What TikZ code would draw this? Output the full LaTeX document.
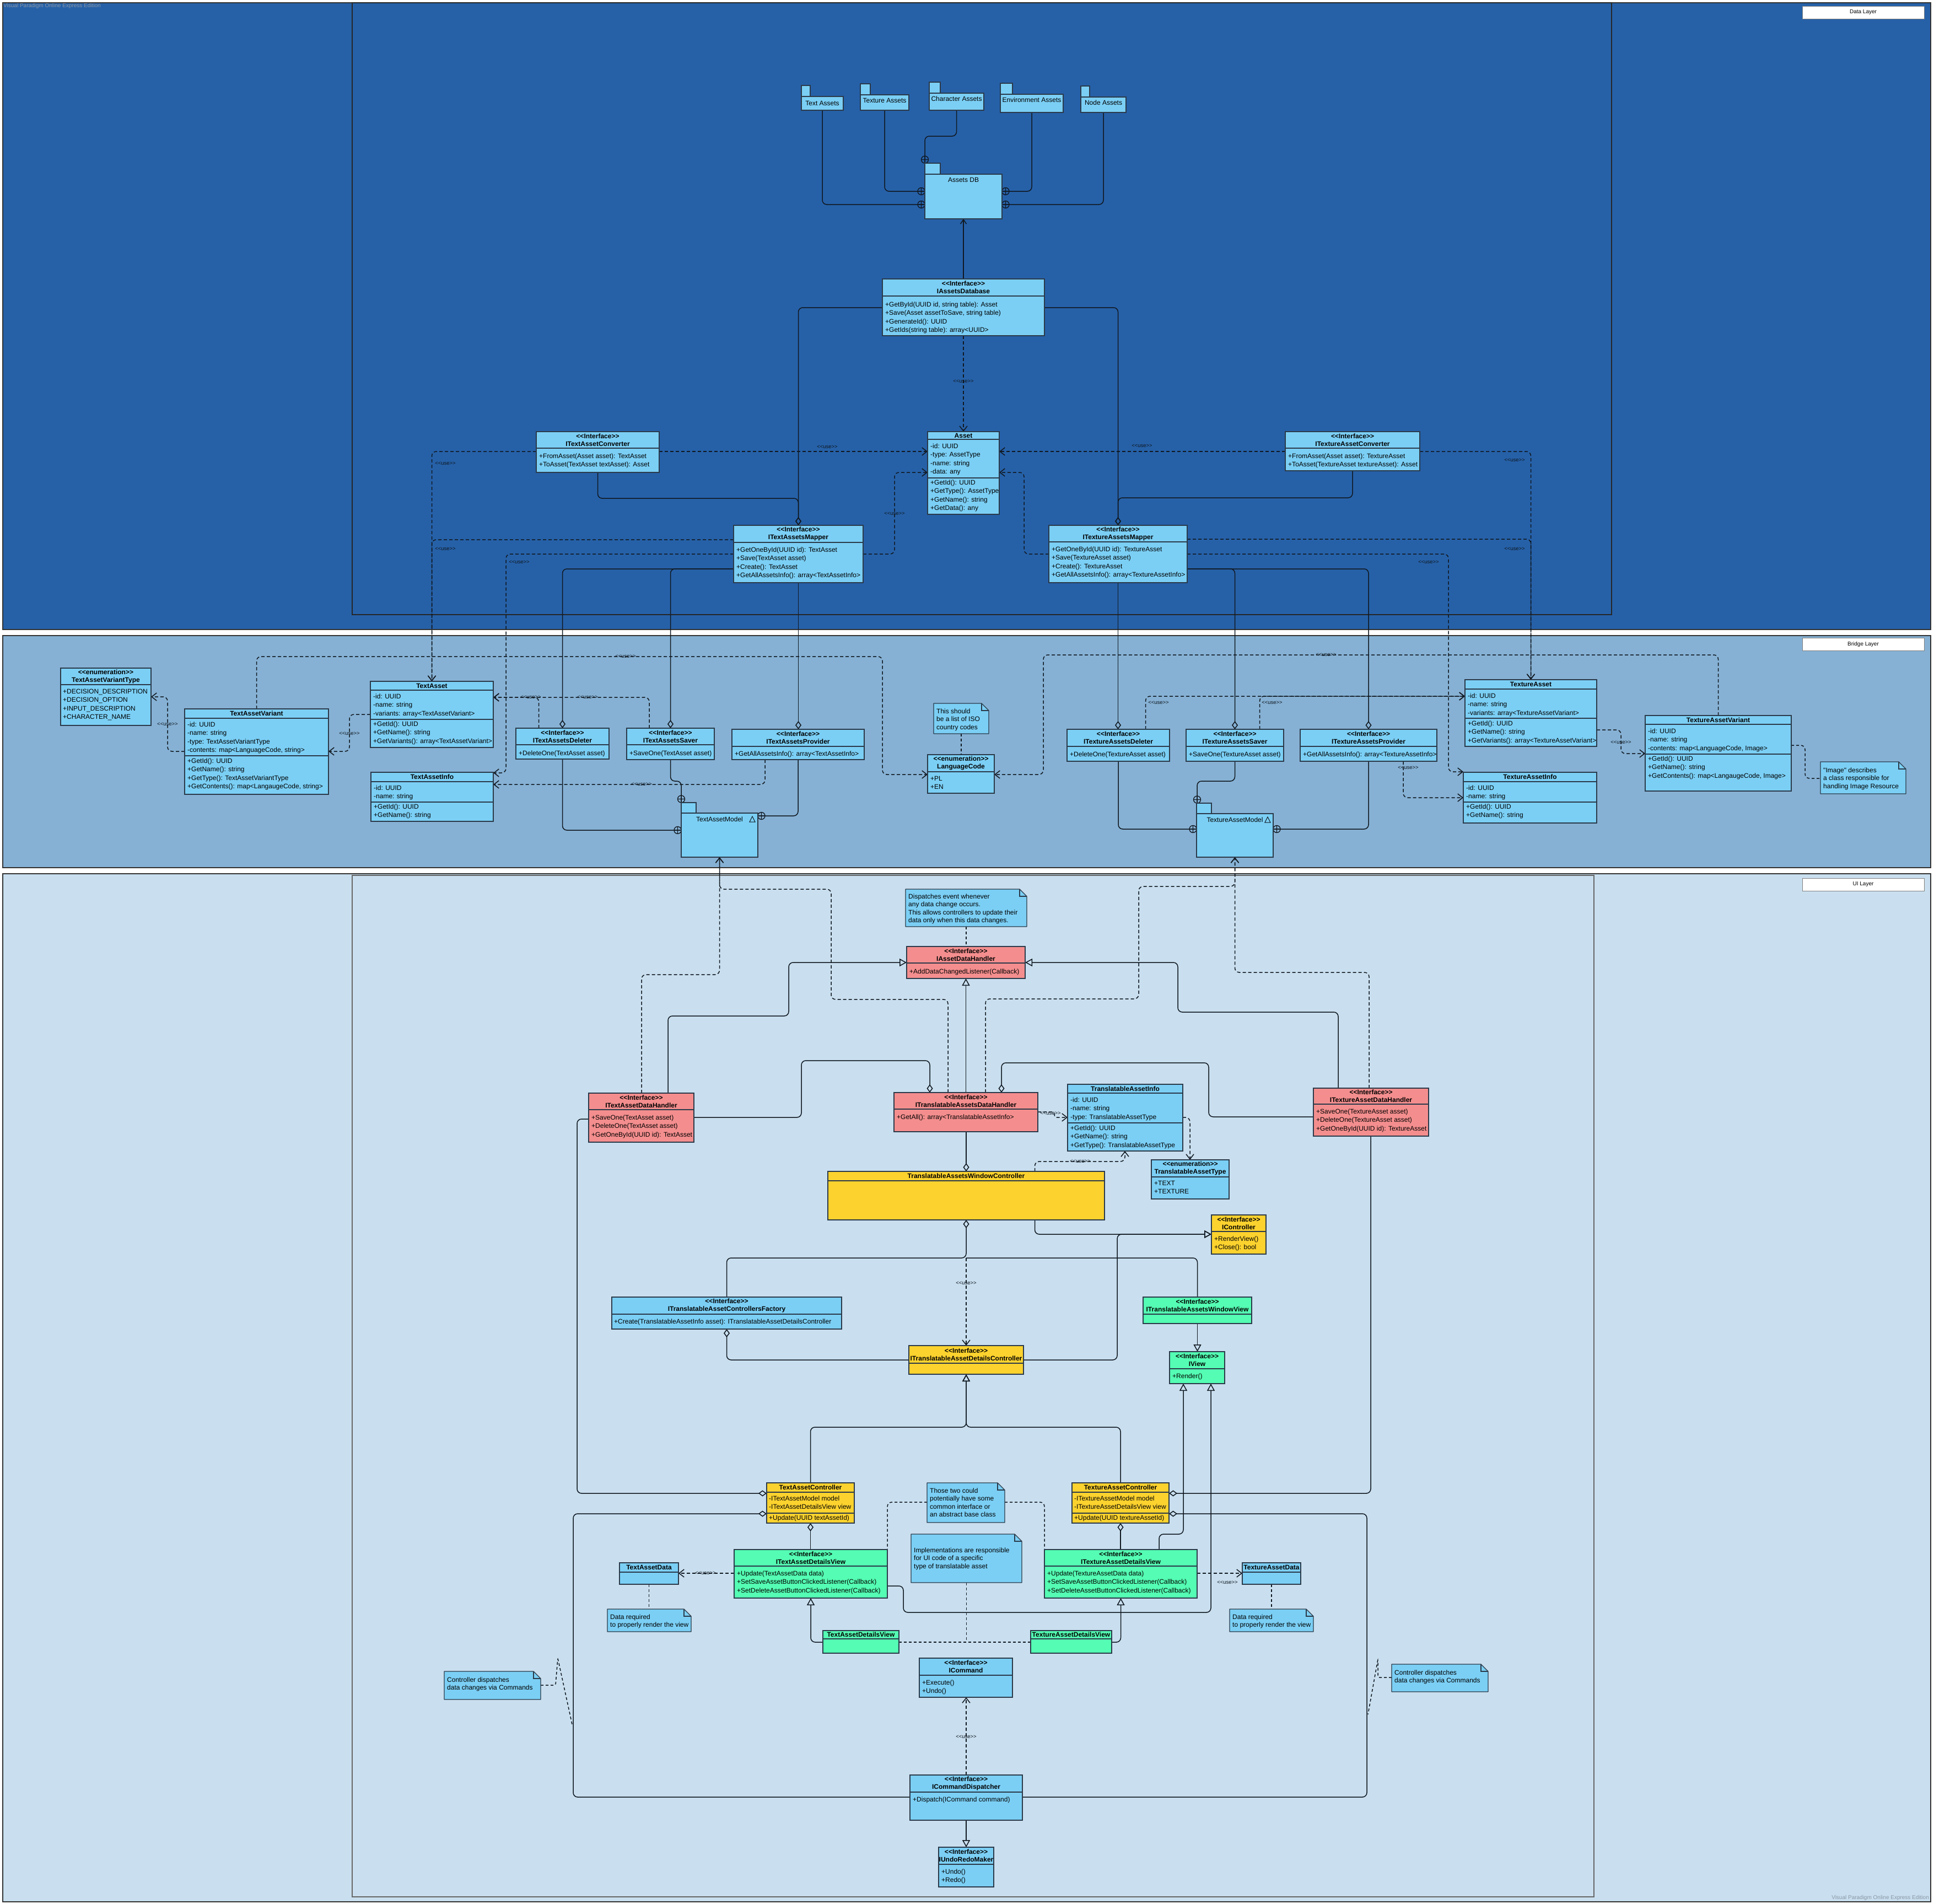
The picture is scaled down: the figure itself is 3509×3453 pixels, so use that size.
\documentclass[tikz,border=0pt]{standalone}
\usepackage{fontspec}
\setmainfont{Liberation Sans}[Ligatures=TeXOff]
\usetikzlibrary{arrows.meta}
\pgfdeclarelayer{back}
\pgfdeclarelayer{wires}
\pgfsetlayers{back,wires,main}
\definecolor{datab}{HTML}{2661A8}
\definecolor{bridgeb}{HTML}{86B1D4}
\definecolor{uib}{HTML}{C9DFEF}
\definecolor{cb}{HTML}{7BCFF5}
\definecolor{cr}{HTML}{F48E8E}
\definecolor{cy}{HTML}{FCD22E}
\definecolor{cg}{HTML}{54FDB3}
\definecolor{bl}{HTML}{2B3A4A}
\definecolor{lc}{HTML}{101820}
\definecolor{wm}{HTML}{8A97A6}
\newcommand\hf{\fontsize{12}{14}\selectfont\bfseries}
\newcommand\rf{\fontsize{12}{15.6}\selectfont}
\newcommand\nf{\fontsize{12}{14.5}\selectfont}
\tikzset{
 clsbox/.style={draw=bl, line width=1.3pt, inner sep=0pt, outer sep=0pt, anchor=north west},
 divl/.style={draw=bl, line width=1.3pt},
 hd/.style={inner sep=0pt, font=\hf, align=center},
 rw/.style={inner sep=0pt, anchor=base west},
 conn/.style={draw=lc, line width=1.5pt, rounded corners=8pt},
 dep/.style={conn, dash pattern=on 6pt off 4pt, -{Straight Barb[length=9pt,width=14pt]}},
 dashln/.style={conn, dash pattern=on 5pt off 4pt},
 agg/.style={conn, {Diamond[open,length=15pt,width=11pt]}-},
 aggend/.style={conn, -{Diamond[open,length=15pt,width=11pt]}},
 gen/.style={conn, -{Triangle[open,length=13pt,width=14pt]}},
 lbl/.style={inner sep=0pt, font=\fontsize{9.5}{11}\selectfont, text=lc},
 layerbox/.style={draw=black!80, line width=1.5pt, inner sep=0pt, anchor=north west},
 framebox/.style={line width=1.5pt, inner sep=0pt, anchor=north west},
 laylbl/.style={draw=black!50, fill=white, minimum width=221pt, minimum height=23pt, inner sep=0pt, font=\fontsize{10}{12}\selectfont},
}
\newcommand\cls[8]{%
 \node[clsbox, fill=#6, minimum width={#4pt-#2pt}, minimum height={#5pt-#3pt}] (#1) at (#2,#3) {};
 \draw[divl] (#2,#7) -- (#4,#7);
 \node[hd] (#1-h) at ({(#2+#4)/2},{(#3+#7)/2}) {#8};}
\newcommand\rws[4]{\node[rw] (#1) at (#2,#3) {\rf\begin{tabular}[t]{@{}l@{}}#4\end{tabular}};}
\newcommand\dvd[3]{\draw[divl] (#1,#3) -- (#2,#3);}
\newcommand\note[7]{%
 \node[inner sep=0pt, outer sep=0pt, minimum width={#4pt-#2pt}, minimum height={#5pt-#3pt}, anchor=north west] (#1) at (#2,#3) {};
 \draw[draw=bl, line width=1.3pt, fill=cb, line join=round] (#2,#3) -- ({#4-13},#3) -- (#4,{#3+13}) -- (#4,#5) -- (#2,#5) -- cycle;
 \draw[draw=bl, line width=1.1pt] ({#4-13},#3) -- ({#4-13},{#3+13}) -- (#4,{#3+13});
 \node[rw] (#1-t) at ({#2+5},#6) {\nf\begin{tabular}[t]{@{}l@{}}#7\end{tabular}};}
\newcommand\pkg[9]{%
 \draw[draw=bl, line width=1.3pt, fill=cb] (#2,#3) rectangle (#4,#5);
 \node[clsbox, fill=cb, minimum width={#6pt-#2pt}, minimum height={#7pt-#5pt}] (#1) at (#2,#5) {};
 \node[inner sep=0pt, font=\rf] (#1-t) at ({(#2+#6)/2},#8) {#9};}
\newcommand\cplus[2]{\draw[draw=lc, line width=1.3pt] (#1,#2) circle[radius=6.5pt] ({#1-6.5},#2) -- ({#1+6.5},#2) (#1,{#2-6.5}) -- (#1,{#2+6.5});}
\newcommand\ulbl[3]{\node[lbl] (#1) at (#2,#3) {<<use>>};}
\begin{document}
\begin{tikzpicture}[x=1pt,y=-1pt]
\useasboundingbox (0,0) rectangle (3509,3453);
\begin{pgfonlayer}{back}
\fill[white] (0,0) rectangle (3509,3453);
\node[layerbox, fill=datab, minimum width=3498pt, minimum height=1137pt] (datalayer) at (4,4) {};
\node[framebox, draw=black!85, minimum width=2285pt, minimum height=1110pt] (dataframe) at (638,4) {};
\node[layerbox, fill=bridgeb, minimum width=3498pt, minimum height=421pt] (bridgelayer) at (4,1152) {};
\node[layerbox, fill=uib, minimum width=3498pt, minimum height=1865pt] (uilayer) at (4,1584) {};
\node[framebox, draw=black!60, minimum width=2253pt, minimum height=1853pt] (uiframe) at (638,1587) {};
\end{pgfonlayer}
\node[laylbl] (datalbl) at (3380.5,22.5) {Data Layer};
\node[laylbl] (bridgelbl) at (3380.5,1168.5) {Bridge Layer};
\node[laylbl] (uilbl) at (3380.5,1604.5) {UI Layer};
\node[inner sep=0pt, anchor=west, text=wm, font=\fontsize{10}{12}\selectfont] (wm1) at (6,11) {Visual Paradigm Online Express Edition};
\node[inner sep=0pt, anchor=east, text=wm, font=\fontsize{10}{12}\selectfont] (wm2) at (3500,3443) {Visual Paradigm Online Express Edition};

% ---------------- DATA LAYER ----------------
\pkg{textA}{1454}{155}{1470}{175}{1530}{200}{187}{Text Assets}
\pkg{textureA}{1561}{152}{1579}{172}{1649}{200}{182}{Texture Assets}
\pkg{charA}{1686}{149}{1706}{169}{1785}{200}{179}{Character Assets}
\pkg{envA}{1815}{151}{1837}{171}{1929}{204}{181}{Environment Assets}
\pkg{nodeA}{1961}{156}{1977}{176}{2043}{204}{186}{Node Assets}
\pkg{assetsdb}{1678}{296}{1706}{316}{1818}{397}{326}{Assets DB}

\cls{iadb}{1601}{506}{1895}{609}{cb}{537}{<<Interface>>\\IAssetsDatabase}
\rws{iadb-r}{1606}{556}{+GetById(UUID id, string table): Asset\\+Save(Asset assetToSave, string table)\\+GenerateId(): UUID\\+GetIds(string table): array<UUID>}
\cls{itac}{973}{783}{1196}{857}{cb}{813}{<<Interface>>\\ITextAssetConverter}
\rws{itac-r}{978}{831}{+FromAsset(Asset asset): TextAsset\\+ToAsset(TextAsset textAsset): Asset}
\cls{itxc}{2332}{783}{2576}{854}{cb}{813}{<<Interface>>\\ITextureAssetConverter}
\rws{itxc-r}{2337}{831}{+FromAsset(Asset asset): TextureAsset\\+ToAsset(TextureAsset textureAsset): Asset}
\cls{asset}{1683}{783}{1813}{933}{cb}{797}{Asset}
\dvd{1683}{1813}{867}
\rws{asset-a}{1688}{813}{-id: UUID\\-type: AssetType\\-name: string\\-data: any}
\rws{asset-m}{1688}{879}{+GetId(): UUID\\+GetType(): AssetType\\+GetName(): string\\+GetData(): any}
\cls{itam}{1331}{953}{1566}{1057}{cb}{984}{<<Interface>>\\ITextAssetsMapper}
\rws{itam-r}{1336}{1001}{+GetOneById(UUID id): TextAsset\\+Save(TextAsset asset)\\+Create(): TextAsset\\+GetAllAssetsInfo(): array<TextAssetInfo>}
\cls{itxm}{1903}{953}{2154}{1057}{cb}{983}{<<Interface>>\\ITextureAssetsMapper}
\rws{itxm-r}{1908}{1000}{+GetOneById(UUID id): TextureAsset\\+Save(TextureAsset asset)\\+Create(): TextureAsset\\+GetAllAssetsInfo(): array<TextureAssetInfo>}

% ---------------- BRIDGE LAYER ----------------
\cls{tavt}{110}{1212}{274}{1316}{cb}{1242}{<<enumeration>>\\TextAssetVariantType}
\rws{tavt-r}{114}{1258}{+DECISION\_DESCRIPTION\\+DECISION\_OPTION\\+INPUT\_DESCRIPTION\\+CHARACTER\_NAME}
\cls{tav}{335}{1286}{596}{1441}{cb}{1303}{TextAssetVariant}
\dvd{335}{596}{1371}
\rws{tav-a}{340}{1318}{-id: UUID\\-name: string\\-type: TextAssetVariantType\\-contents: map<LanguageCode, string>}
\rws{tav-m}{340}{1384}{+GetId(): UUID\\+GetName(): string\\+GetType(): TextAssetVariantType\\+GetContents(): map<LangaugeCode, string>}
\cls{ta}{672}{1236}{895}{1356}{cb}{1252}{TextAsset}
\dvd{672}{895}{1305}
\rws{ta-a}{677}{1267}{-id: UUID\\-name: string\\-variants: array<TextAssetVariant>}
\rws{ta-m}{677}{1317}{+GetId(): UUID\\+GetName(): string\\+GetVariants(): array<TextAssetVariant>}
\cls{tai}{673}{1401}{895}{1490}{cb}{1418}{TextAssetInfo}
\dvd{673}{895}{1455}
\rws{tai-a}{678}{1433}{-id: UUID\\-name: string}
\rws{tai-m}{678}{1467}{+GetId(): UUID\\+GetName(): string}
\cls{itad}{936}{1321}{1105}{1377}{cb}{1351}{<<Interface>>\\ITextAssetsDeleter}
\rws{itad-r}{941}{1370}{+DeleteOne(TextAsset asset)}
\cls{itas}{1137}{1321}{1296}{1378}{cb}{1351}{<<Interface>>\\ITextAssetsSaver}
\rws{itas-r}{1142}{1370}{+SaveOne(TextAsset asset)}
\cls{itap}{1328}{1323}{1568}{1378}{cb}{1354}{<<Interface>>\\ITextAssetsProvider}
\rws{itap-r}{1333}{1371}{+GetAllAssetsInfo(): array<TextAssetInfo>}
\note{noteiso}{1694}{1276}{1794}{1331}{1294}{This should\\be a list of ISO\\country codes}
\cls{lc}{1683}{1369}{1804}{1439}{cb}{1400}{<<enumeration>>\\LanguageCode}
\rws{lc-r}{1688}{1416}{+PL\\+EN}
\pkg{tam}{1236}{1456}{1263}{1475}{1375}{1555}{1486}{TextAssetModel}
\draw[draw=lc, line width=1pt] (1360,1491) -- (1370,1491) -- (1365,1481) -- cycle;
\cls{itxd}{1936}{1323}{2122}{1381}{cb}{1354}{<<Interface>>\\ITextureAssetsDeleter}
\rws{itxd-r}{1941}{1372}{+DeleteOne(TextureAsset asset)}
\cls{itxs}{2152}{1323}{2329}{1381}{cb}{1354}{<<Interface>>\\ITextureAssetsSaver}
\rws{itxs-r}{2157}{1372}{+SaveOne(TextureAsset asset)}
\cls{itxp}{2359}{1323}{2607}{1381}{cb}{1354}{<<Interface>>\\ITextureAssetsProvider}
\rws{itxp-r}{2364}{1372}{+GetAllAssetsInfo(): array<TextureAssetInfo>}
\cls{txa}{2658}{1233}{2897}{1354}{cb}{1250}{TextureAsset}
\dvd{2658}{2897}{1303}
\rws{txa-a}{2663}{1266}{-id: UUID\\-name: string\\-variants: array<TextureAssetVariant>}
\rws{txa-m}{2663}{1316}{+GetId(): UUID\\+GetName(): string\\+GetVariants(): array<TextureAssetVariant>}
\cls{txai}{2655}{1401}{2897}{1493}{cb}{1418}{TextureAssetInfo}
\dvd{2655}{2897}{1455}
\rws{txai-a}{2660}{1433}{-id: UUID\\-name: string}
\rws{txai-m}{2660}{1467}{+GetId(): UUID\\+GetName(): string}
\cls{txav}{2985}{1298}{3250}{1435}{cb}{1314}{TextureAssetVariant}
\dvd{2985}{3250}{1368}
\rws{txav-a}{2990}{1330}{-id: UUID\\-name: string\\-contents: map<LanguageCode, Image>}
\rws{txav-m}{2990}{1380}{+GetId(): UUID\\+GetName(): string\\+GetContents(): map<LangaugeCode, Image>}
\note{noteimg}{3303}{1382}{3458}{1440}{1401}{"Image" describes\\a class responsible for\\handling Image Resource}
\pkg{txam}{2171}{1457}{2198}{1476}{2310}{1555}{1487}{TextureAssetModel}
\draw[draw=lc, line width=1pt] (2295,1492) -- (2305,1492) -- (2300,1482) -- cycle;

% ---------------- UI LAYER ----------------
\note{notedisp}{1643}{1613}{1863}{1681}{1630}{Dispatches event whenever\\any data change occurs.\\This allows controllers to update their\\data only when this data changes.}
\cls{iadh}{1645}{1717}{1860}{1775}{cr}{1747}{<<Interface>>\\IAssetDataHandler}
\rws{iadh-r}{1650}{1766}{+AddDataChangedListener(Callback)}
\cls{itdh}{1068}{1983}{1259}{2072}{cr}{2013}{<<Interface>>\\ITextAssetDataHandler}
\rws{itdh-r}{1073}{2031}{+SaveOne(TextAsset asset)\\+DeleteOne(TextAsset asset)\\+GetOneById(UUID id): TextAsset}
\cls{itrdh}{1622}{1982}{1883}{2053}{cr}{2012}{<<Interface>>\\ITranslatableAssetsDataHandler}
\rws{itrdh-r}{1627}{2030}{+GetAll(): array<TranslatableAssetInfo>}
\cls{trai}{1937}{1967}{2146}{2088}{cb}{1983}{TranslatableAssetInfo}
\dvd{1937}{2146}{2037}
\rws{trai-a}{1942}{1999}{-id: UUID\\-name: string\\-type: TranslatableAssetType}
\rws{trai-m}{1942}{2050}{+GetId(): UUID\\+GetName(): string\\+GetType(): TranslatableAssetType}
\cls{itxdh}{2383}{1974}{2592}{2061}{cr}{2003}{<<Interface>>\\ITextureAssetDataHandler}
\rws{itxdh-r}{2388}{2020}{+SaveOne(TextureAsset asset)\\+DeleteOne(TextureAsset asset)\\+GetOneById(UUID id): TextureAsset}
\cls{tawc}{1502}{2125}{2004}{2213}{cy}{2142}{TranslatableAssetsWindowController}
\cls{trat}{2089}{2104}{2230}{2175}{cb}{2135}{<<enumeration>>\\TranslatableAssetType}
\rws{trat-r}{2094}{2150}{+TEXT\\+TEXTURE}
\cls{ictl}{2198}{2204}{2297}{2275}{cy}{2234}{<<Interface>>\\IController}
\rws{ictl-r}{2203}{2251}{+RenderView()\\+Close(): bool}
\cls{tacf}{1110}{2353}{1527}{2411}{cb}{2384}{<<Interface>>\\ITranslatableAssetControllersFactory}
\rws{tacf-r}{1114}{2401}{+Create(TranslatableAssetInfo asset): ITranslatableAssetDetailsController}
\cls{tawv}{2074}{2353}{2271}{2401}{cg}{2384}{<<Interface>>\\ITranslatableAssetsWindowView}
\cls{tadc}{1649}{2441}{1857}{2493}{cy}{2473}{<<Interface>>\\ITranslatableAssetDetailsController}
\cls{iview}{2122}{2452}{2222}{2510}{cg}{2483}{<<Interface>>\\IView}
\rws{iview-r}{2127}{2500}{+Render()}
\cls{tac}{1391}{2690}{1550}{2763}{cy}{2707}{TextAssetController}
\dvd{1391}{1550}{2745}
\rws{tac-a}{1395}{2722}{-ITextAssetModel model\\-ITextAssetDetailsView view}
\rws{tac-m}{1395}{2757}{+Update(UUID textAssetId)}
\cls{txac}{1945}{2690}{2121}{2763}{cy}{2707}{TextureAssetController}
\dvd{1945}{2121}{2745}
\rws{txac-a}{1949}{2722}{-ITextureAssetModel model\\-ITextureAssetDetailsView view}
\rws{txac-m}{1949}{2757}{+Update(UUID textureAssetId)}
\note{notetwo}{1682}{2690}{1823}{2762}{2708}{Those two could\\potentially have some\\common interface or\\an abstract base class}
\note{noteimpl}{1653}{2783}{1854}{2871}{2816}{Implementations are responsible\\for UI code of a specific\\type of translatable asset}
\cls{itdv}{1332}{2811}{1610}{2899}{cg}{2841}{<<Interface>>\\ITextAssetDetailsView}
\rws{itdv-r}{1337}{2858}{+Update(TextAssetData data)\\+SetSaveAssetButtonClickedListener(Callback)\\+SetDeleteAssetButtonClickedListener(Callback)}
\cls{itxdv}{1895}{2811}{2172}{2899}{cg}{2841}{<<Interface>>\\ITextureAssetDetailsView}
\rws{itxdv-r}{1900}{2858}{+Update(TextureAssetData data)\\+SetSaveAssetButtonClickedListener(Callback)\\+SetDeleteAssetButtonClickedListener(Callback)}
\cls{tad}{1124}{2835}{1231}{2874}{cb}{2852}{TextAssetData}
\cls{txad}{2254}{2835}{2360}{2874}{cb}{2852}{TextureAssetData}
\note{notedl}{1102}{2919}{1254}{2960}{2937}{Data required\\to properly render the view}
\note{notedr}{2231}{2919}{2383}{2960}{2937}{Data required\\to properly render the view}
\cls{tadv}{1493}{2958}{1631}{2999}{cg}{2973}{TextAssetDetailsView}
\cls{txadv}{1870}{2958}{2017}{2999}{cg}{2973}{TextureAssetDetailsView}
\cls{icmd}{1668}{3008}{1837}{3079}{cb}{3039}{<<Interface>>\\ICommand}
\rws{icmd-r}{1673}{3056}{+Execute()\\+Undo()}
\cls{icd}{1651}{3220}{1855}{3302}{cb}{3251}{<<Interface>>\\ICommandDispatcher}
\rws{icd-r}{1656}{3268}{+Dispatch(ICommand command)}
\cls{iurm}{1703}{3351}{1803}{3423}{cb}{3382}{<<Interface>>\\IUndoRedoMaker}
\rws{iurm-r}{1708}{3399}{+Undo()\\+Redo()}
\note{notecl}{806}{3032}{981}{3083}{3051}{Controller dispatches\\data changes via Commands}
\note{notecr}{2525}{3019}{2700}{3069}{3038}{Controller dispatches\\data changes via Commands}

% ---------------- CONNECTORS ----------------
\begin{pgfonlayer}{wires}
% data layer
\draw[conn] (textA.south) |- (assetsdb.west |- 0,371);
\draw[conn] (textureA.south) |- (assetsdb.west |- 0,347);
\draw[conn] (charA.south) |- (1678,247) -- (1678,296);
\draw[conn] (envA.south) |- (assetsdb.east |- 0,347);
\draw[conn] (nodeA.south) |- (assetsdb.east |- 0,371);
\draw[conn, -{Straight Barb[length=8pt,width=11pt]}] (iadb.north) -- (iadb.north |- assetsdb.south);
\draw[dep] (iadb.south) -- (iadb.south |- asset.north);
\draw[aggend] (iadb.west |- 0,558) -| (itam.north);
\draw[aggend] (itac.south) |- (1448.5,904) -- (itam.north);
\draw[aggend] (iadb.east |- 0,558) -| (itxm.north);
\draw[aggend] (itxc.south) |- (2028.5,903) -- (itxm.north);
\draw[dep] (itac.east |- 0,819) -- (asset.west |- 0,819);
\draw[dep] (itxc.west |- 0,819) -- (asset.east |- 0,819);
\draw[dep] (itam.east |- 0,1005) -| (1623,857) -- (asset.west |- 0,857);
\draw[dep] (itxm.west |- 0,1005) -| (1858,857) -- (asset.east |- 0,857);
\draw[dep] (itac.west |- 0,819) -| (ta.north);
\draw[dep] (itam.west |- 0,979) -| (ta.north);
\draw[dep] (itam.west |- 0,1005) -| (918,1402) -- (tai.east |- 0,1402);
\draw[dep] (itxm.east |- 0,978) -| (txa.north);
\draw[dep] (itxc.east |- 0,819) -| (txa.north);
\draw[dep] (itxm.east |- 0,1005) -| (2628,1400) -- (txai.west |- 0,1400);
\draw[aggend] (itam.west |- 0,1032) -| (itad.north);
\draw[aggend] (itam.west |- 0,1032) -| (itas.north);
\draw[aggend] (itam.south) -- (itam.south |- itap.north);
\draw[aggend] (itxm.south) -- (itxm.south |- itxd.north);
\draw[aggend] (itxm.east |- 0,1032) -| (itxs.north);
\draw[aggend] (itxm.east |- 0,1032) -| (itxp.north);
% bridge layer
\draw[conn] (itad.south) |- (tam.west |- 0,1506);
\draw[conn] (itas.south) |- (1236,1417) -- (1236,1456);
\draw[conn] (itap.south) |- (tam.east |- 0,1480);
\draw[dep] (itad.north -| 977.5,0) |- (ta.east |- 0,1265);
\draw[dep] (itas.north -| 1178,0) |- (ta.east |- 0,1265);
\draw[dep] (itap.south -| 1388,0) |- (tai.east |- 0,1423);
\draw[dep] (tav.west |- 0,1363) -| (304,1264) -- (tavt.east |- 0,1264);
\draw[dep] (ta.west |- 0,1296) -| (634,1363) -- (tav.east |- 0,1363);
\draw[dep] (tav.north) |- (1601,1191) |- (lc.west |- 0,1405);
\draw[dashln] (noteiso.south) -- (noteiso.south |- lc.north);
\draw[dep] (txav.north) |- (1893,1188) |- (lc.east |- 0,1405);
\draw[dep] (itxd.north -| 2078.6,0) |- (txa.west |- 0,1263);
\draw[dep] (itxs.north -| 2285.7,0) |- (txa.west |- 0,1263);
\draw[dep] (itxp.south -| 2546,0) |- (txai.west |- 0,1447);
\draw[dep] (txa.east |- 0,1324) -| (2941,1367) -- (txav.west |- 0,1367);
\draw[dashln] (txav.east |- 0,1352) -| (3275,1412) -- (noteimg.west |- 0,1412);
\draw[conn] (itxd.south) |- (txam.west |- 0,1504);
\draw[conn] (itxs.south) |- (2172,1417) -- (2172,1457);
\draw[conn] (itxp.south) |- (txam.east |- 0,1504);
% ui layer
\draw[dashln] (notedisp.south) -- (notedisp.south |- iadh.north);
\draw[gen] (itdh.north -| 1212,0) |- (1431,1843) |- (iadh.west |- 0,1746);
\draw[gen] (itrdh.north) -- (itrdh.north |- iadh.south);
\draw[gen] (itxdh.north -| 2428,0) |- (2137,1836) |- (iadh.east |- 0,1746);
\draw[aggend] (itdh.east |- 0,2027) -| (1454,1924) -| (itrdh.north -| 1687,0);
\draw[aggend] (itxdh.west |- 0,2026) -| (2193,1928) -| (itrdh.north -| 1817,0);
\draw[dep] (itdh.north -| 1164,0) |- (tam.south |- 0,1768) -- (tam.south);
\draw[dep] (itrdh.north -| 1720,0) |- (1508,1813) |- (tam.south |- 0,1613) -- (tam.south);
\draw[dep] (itrdh.north -| 1788,0) |- (2066,1812) |- (txam.south |- 0,1608) -- (txam.south);
\draw[dep] (itxdh.north -| 2484,0) |- (txam.south |- 0,1764) -- (txam.south);
\draw[dep, rounded corners=2pt] (itrdh.east |- 0,2017) -- (1912,2017) -- (1914,2027) -- (trai.west |- 0,2027);
\draw[dep] (trai.east |- 0,2027) -| (trat.north -| 2159,0);
\draw[dep] (tawc.north -| 1877.5,0) |- (2041,2107) -- (trai.south -| 2041,0);
\draw[agg] (tawc.north -| 1753,0) -- (itrdh.south -| 1753,0);
\draw[gen] (tawc.south -| 1877.5,0) |- (ictl.west |- 0,2239);
\draw[gen] (tadc.east |- 0,2467) -| (2027,2239) -- (ictl.west |- 0,2239);
\coordinate (jn1) at (1753,2282);
\draw[agg] (tawc.south -| 1753,0) -- (jn1) -| (tacf.north);
\draw[conn] (jn1) -| (tawv.north);
\draw[dep] (jn1) -- (tadc.north);
\draw[agg] (tacf.south) |- (tadc.west |- 0,2467);
\draw[gen] (tawv.south) -- (tawv.south |- iview.north);
\coordinate (jn2) at (1753,2589);
\draw[gen] (tac.north) |- (jn2) -- (tadc.south);
\draw[gen] (txac.north) |- (jn2) -- (tadc.south);
\draw[gen] (itxdv.north -| 2103,0) |- (2147,2783) -- (iview.south -| 2147,0);
\draw[gen] (itdv.east |- 0,2877) -| (1639,2925) -| (iview.south -| 2197,0);
\draw[aggend] (itdh.west |- 0,2030) -| (1047,2709) -- (tac.west |- 0,2709);
\draw[aggend] (itxdh.south -| 2487,0) |- (txac.east |- 0,2709);
\draw[aggend] (icd.west |- 0,3260) -| (1040,2746) -- (tac.west |- 0,2746);
\draw[aggend] (icd.east |- 0,3260) -| (2480,2746) -- (txac.east |- 0,2746);
\draw[agg] (tac.south) -- (tac.south |- itdv.north);
\draw[agg] (txac.south) -- (txac.south |- itxdv.north);
\draw[dashln] (notetwo.west |- 0,2725) -| (itdv.north east);
\draw[dashln] (notetwo.east |- 0,2725) -| (itxdv.north west);
\draw[dep] (itdv.west |- 0,2854) -- (tad.east |- 0,2854);
\draw[dep] (itxdv.east |- 0,2854) -- (txad.west |- 0,2854);
\draw[dashln] (tad.south) -- (tad.south |- notedl.north);
\draw[dashln] (txad.south) -- (txad.south |- notedr.north);
\draw[gen] (tadv.west |- 0,2979) -| (itdv.south);
\draw[gen] (txadv.east |- 0,2979) -| (itxdv.south);
\draw[dashln] (tadv.east |- 0,2979) -- (txadv.west |- 0,2979);
\draw[dashln] (noteimpl.south) -- (noteimpl.south |- 0,2979);
\draw[dep] (icd.north) -- (icd.north |- icmd.south);
\draw[gen] (icd.south) -- (icd.south |- iurm.north);
\draw[dashln, rounded corners=3pt] (notecl.east |- 0,3057) -- (1008,3057) -- (1012,3008) -- (1038,3128);
\draw[dashln, rounded corners=3pt] (notecr.west |- 0,3043) -- (2500,3043) -- (2500,3010) -- (2482,3110);
% nesting symbols
\cplus{1671.5}{371}
\cplus{1671.5}{347}
\cplus{1678}{289.5}
\cplus{1824.5}{347}
\cplus{1824.5}{371}
\cplus{1229.5}{1506}
\cplus{1236}{1449.5}
\cplus{1381.5}{1480}
\cplus{2164.5}{1504}
\cplus{2172}{1450.5}
\cplus{2316.5}{1504}
\end{pgfonlayer}

% ---------------- LABELS ----------------
\ulbl{L1}{1748}{692}
\ulbl{L2}{1501}{811}
\ulbl{L3}{2072}{809}
\ulbl{L4}{1623}{932}
\ulbl{L5}{808}{841}
\ulbl{L6}{808}{996}
\ulbl{L7}{942}{1020}
\ulbl{L8}{2748}{835}
\ulbl{L9}{2748}{996}
\ulbl{L10}{2592}{1020}
\ulbl{L11}{963}{1265}
\ulbl{L12}{1066}{1265}
\ulbl{L13}{1164}{1423}
\ulbl{L14}{304}{1314}
\ulbl{L15}{634}{1331}
\ulbl{L16}{1135}{1191}
\ulbl{L17}{2406}{1188}
\ulbl{L18}{2102}{1275}
\ulbl{L19}{2308}{1275}
\ulbl{L20}{2555}{1393}
\ulbl{L21}{2941}{1347}
\ulbl{L22}{1906}{2020}
\ulbl{L23}{1960}{2107}
\ulbl{L24}{1753}{2328}
\ulbl{L25}{1280}{2854}
\ulbl{L26}{2227}{2871}
\ulbl{L27}{1753}{3151}
\end{tikzpicture}
\end{document}
